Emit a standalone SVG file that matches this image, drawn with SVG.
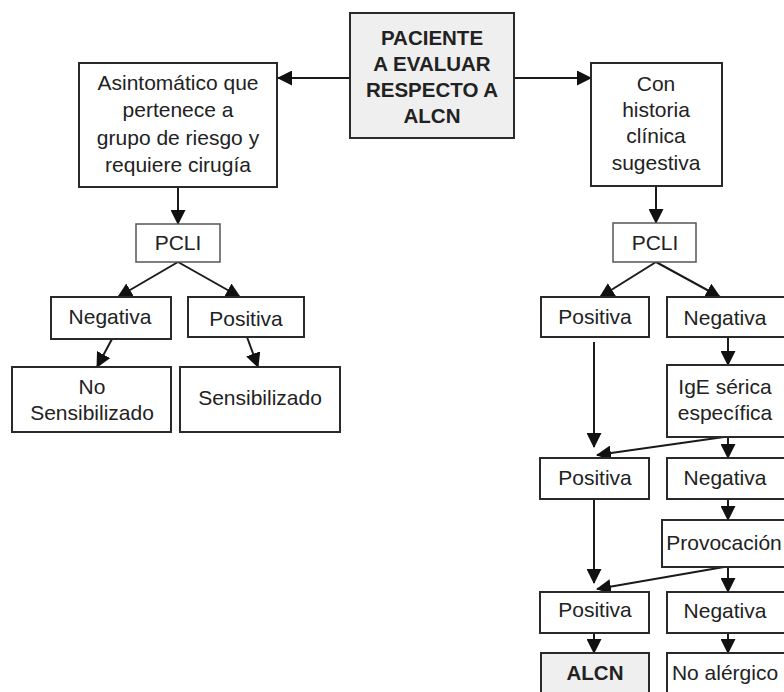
<svg xmlns="http://www.w3.org/2000/svg" width="784" height="692" viewBox="0 0 784 692">
<style>
.box{fill:#fff;stroke:#2a2a2a;stroke-width:2}
.thin{fill:#fff;stroke:#555;stroke-width:1.5}
.gray{fill:#efefef;stroke:#2a2a2a;stroke-width:2}
text{font-family:"Liberation Sans",Arial,sans-serif;font-size:21px;fill:#222;text-anchor:middle}
.b{font-weight:bold;font-size:20.5px}
.c line{stroke:#1a1a1a;stroke-width:2;marker-end:url(#ah)}
</style>
<defs>
<marker id="ah" markerUnits="userSpaceOnUse" markerWidth="15" markerHeight="15" refX="14" refY="7.5" orient="auto">
<path d="M0,0 L15,7.5 L0,15 z" fill="#111"/>
</marker>
</defs>
<rect width="784" height="692" fill="#fff"/>
<g class="c" id="connectors">
<line x1="350" y1="78" x2="278" y2="78"/>
<line x1="514" y1="78" x2="591" y2="78"/>
<line x1="178" y1="187" x2="178" y2="224"/>
<line x1="656" y1="186" x2="656" y2="223"/>
<line x1="178" y1="262" x2="118" y2="297"/>
<line x1="178" y1="262" x2="240" y2="297"/>
<line x1="112" y1="339" x2="97" y2="367"/>
<line x1="247" y1="337" x2="258" y2="367"/>
<line x1="656" y1="262" x2="600" y2="297"/>
<line x1="656" y1="262" x2="720" y2="297"/>
<line x1="728" y1="337" x2="728" y2="365"/>
<line x1="594" y1="342" x2="594" y2="447"/>
<line x1="724" y1="437" x2="597" y2="455"/>
<line x1="728" y1="437" x2="728" y2="458"/>
<line x1="728" y1="499" x2="728" y2="520"/>
<line x1="724" y1="567" x2="597" y2="589"/>
<line x1="728" y1="567" x2="728" y2="592"/>
<line x1="594" y1="499" x2="594" y2="583"/>
<line x1="594" y1="633" x2="594" y2="653"/>
<line x1="728" y1="633" x2="728" y2="653"/>
</g>
<g id="n-paciente"><rect class="gray" x="350" y="13" width="164" height="125"/>
<text class="b" x="432" y="45">PACIENTE</text><text class="b" x="432" y="71">A EVALUAR</text><text class="b" x="432" y="97">RESPECTO A</text><text class="b" x="432" y="123">ALCN</text></g>
<g id="n-asint"><rect class="box" x="79" y="63" width="198" height="124"/>
<text x="178" y="90">Asintomático que</text><text x="178" y="117">pertenece a</text><text x="178" y="145">grupo de riesgo y</text><text x="178" y="172">requiere cirugía</text></g>
<g id="n-con"><rect class="box" x="591" y="63" width="131" height="123"/>
<text x="656" y="91">Con</text><text x="656" y="117">historia</text><text x="656" y="143">clínica</text><text x="656" y="170">sugestiva</text></g>
<g id="n-pcli-l"><rect class="thin" x="136" y="224" width="84" height="38"/><text x="178" y="250">PCLI</text></g>
<g id="n-pcli-r"><rect class="thin" x="613" y="223" width="83" height="39"/><text x="655" y="250">PCLI</text></g>
<g id="n-neg-l"><rect class="box" x="51" y="297" width="120" height="42"/><text x="110" y="324">Negativa</text></g>
<g id="n-pos-l"><rect class="box" x="188" y="297" width="116" height="40"/><text x="246" y="326">Positiva</text></g>
<g id="n-nosens"><rect class="box" x="12" y="367" width="159" height="65"/><text x="92" y="394">No</text><text x="92" y="420">Sensibilizado</text></g>
<g id="n-sens"><rect class="box" x="180" y="367" width="160" height="65"/><text x="260" y="405">Sensibilizado</text></g>
<g id="n-pos1"><rect class="box" x="541" y="297" width="108" height="40"/><text x="595" y="324">Positiva</text></g>
<g id="n-neg1"><rect class="box" x="667" y="297" width="140" height="40"/><text x="725" y="325">Negativa</text></g>
<g id="n-ige"><rect class="box" x="667" y="365" width="140" height="72"/><text x="725" y="394">IgE sérica</text><text x="725" y="420">específica</text></g>
<g id="n-pos2"><rect class="box" x="540" y="458" width="109" height="41"/><text x="595" y="485">Positiva</text></g>
<g id="n-neg2"><rect class="box" x="667" y="458" width="140" height="41"/><text x="725" y="485">Negativa</text></g>
<g id="n-prov"><rect class="box" x="662" y="520" width="145" height="47"/><text x="724" y="550">Provocación</text></g>
<g id="n-pos3"><rect class="box" x="540" y="592" width="109" height="41"/><text x="595" y="617">Positiva</text></g>
<g id="n-neg3"><rect class="box" x="667" y="592" width="140" height="41"/><text x="725" y="618">Negativa</text></g>
<g id="n-alcn"><rect class="gray" x="541" y="653" width="108" height="60"/><text class="b" x="595" y="680">ALCN</text></g>
<g id="n-noalerg"><rect class="box" x="667" y="653" width="140" height="60"/><text x="725" y="680">No alérgico</text></g>
</svg>
